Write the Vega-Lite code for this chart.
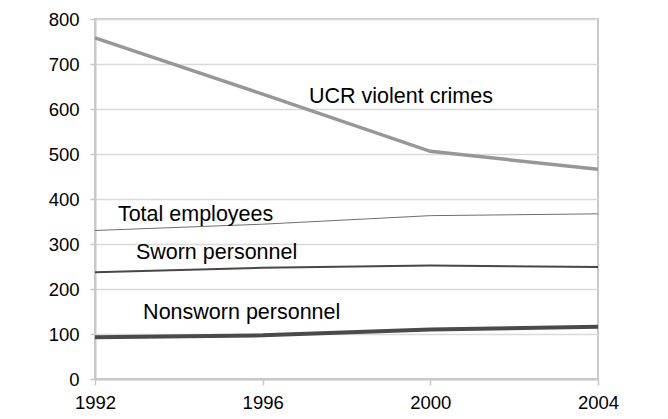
{
  "$schema": "https://vega.github.io/schema/vega-lite/v6.json",
  "autosize": {"type": "none"},
  "width": 503,
  "height": 360,
  "padding": {"left": 95, "top": 19, "right": 70, "bottom": 40},
  "background": "white",
  "config": {
    "view": {"stroke": "#c8c8c8", "strokeWidth": 2},
    "font": "Liberation Sans",
    "axis": {
      "labelFont": "Liberation Sans",
      "labelFontSize": 18.5,
      "labelColor": "black",
      "labelFlush": false,
      "domainColor": "#c8c8c8",
      "domainWidth": 2,
      "tickColor": "#c8c8c8",
      "tickWidth": 1.5,
      "gridColor": "#d9d9d9",
      "gridWidth": 1.5,
      "title": null
    }
  },
  "datasets": {
    "series": [
      {"year": 1992, "value": 758, "series": "UCR violent crimes"},
      {"year": 1996, "value": 633, "series": "UCR violent crimes"},
      {"year": 2000, "value": 506, "series": "UCR violent crimes"},
      {"year": 2004, "value": 466, "series": "UCR violent crimes"},
      {"year": 1992, "value": 330, "series": "Total employees"},
      {"year": 1996, "value": 344, "series": "Total employees"},
      {"year": 2000, "value": 363, "series": "Total employees"},
      {"year": 2004, "value": 367, "series": "Total employees"},
      {"year": 1992, "value": 237, "series": "Sworn personnel"},
      {"year": 1996, "value": 247, "series": "Sworn personnel"},
      {"year": 2000, "value": 252, "series": "Sworn personnel"},
      {"year": 2004, "value": 249, "series": "Sworn personnel"},
      {"year": 1992, "value": 93, "series": "Nonsworn personnel"},
      {"year": 1996, "value": 97, "series": "Nonsworn personnel"},
      {"year": 2000, "value": 110, "series": "Nonsworn personnel"},
      {"year": 2004, "value": 116, "series": "Nonsworn personnel"}
    ],
    "labels": [
      {"year": 1999.3, "value": 627, "label": "UCR violent crimes"},
      {"year": 1994.4, "value": 364, "label": "Total employees"},
      {"year": 1994.9, "value": 280, "label": "Sworn personnel"},
      {"year": 1995.5, "value": 147, "label": "Nonsworn personnel"}
    ]
  },
  "encoding": {
    "x": {
      "field": "year", "type": "quantitative",
      "scale": {"domain": [1992, 2004], "nice": false, "zero": false},
      "axis": {"values": [1992, 1996, 2000, 2004], "format": "d", "grid": false, "tickSize": 6, "labelPadding": 8}
    },
    "y": {
      "field": "value", "type": "quantitative",
      "scale": {"domain": [0, 800], "nice": false},
      "axis": {"values": [0, 100, 200, 300, 400, 500, 600, 700, 800], "tickSize": 5, "labelPadding": 11, "grid": true}
    }
  },
  "layer": [
    {
      "data": {"name": "series"},
      "transform": [{"filter": "datum.series === 'UCR violent crimes'"}],
      "mark": {"type": "line", "color": "#979797", "strokeWidth": 3.5}
    },
    {
      "data": {"name": "series"},
      "transform": [{"filter": "datum.series === 'Total employees'"}],
      "mark": {"type": "line", "color": "#6e6e6e", "strokeWidth": 1}
    },
    {
      "data": {"name": "series"},
      "transform": [{"filter": "datum.series === 'Sworn personnel'"}],
      "mark": {"type": "line", "color": "#474747", "strokeWidth": 2}
    },
    {
      "data": {"name": "series"},
      "transform": [{"filter": "datum.series === 'Nonsworn personnel'"}],
      "mark": {"type": "line", "color": "#4a4a4a", "strokeWidth": 4}
    },
    {
      "data": {"name": "labels"},
      "mark": {"type": "text", "font": "Liberation Sans", "fontSize": 21.5, "color": "black", "align": "center", "baseline": "middle"},
      "encoding": {
        "text": {"field": "label"}
      }
    }
  ]
}
